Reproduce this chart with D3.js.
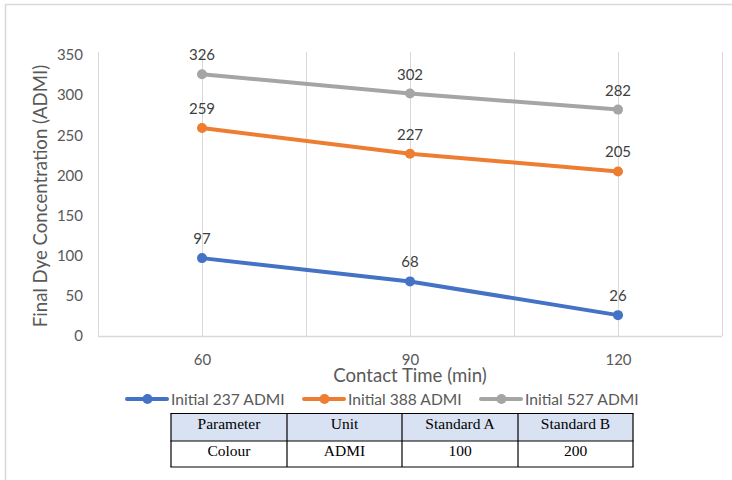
<!DOCTYPE html>
<html>
<head>
<meta charset="utf-8">
<script src="https://cdn.jsdelivr.net/npm/d3@7"></script>
<style>
  html, body { margin: 0; padding: 0; background: #fff; }
  svg { display: block; }
</style>
</head>
<body>
<svg id="chart" width="732" height="480"></svg>
<script>
// Contact times (min) and final dye concentration per initial concentration
const contactTimes = [60, 90, 120];
const seriesNames = ["Initial 237 ADMI", "Initial 388 ADMI", "Initial 527 ADMI"];
const initial237 = [97, 68, 26];
const initial388 = [259, 227, 205];
const initial527 = [326, 302, 282];
const seriesColors = ["#4472C4", "#ED7D31", "#A5A5A5"];
const yTicks = [0, 50, 100, 150, 200, 250, 300, 350];
const xGridTicks = [45, 60, 75, 90, 105, 120, 135];

// Discharge standards table
const tableHeader = ["Parameter", "Unit", "Standard A", "Standard B"];
const tableRow = ["Colour", "ADMI", "100", "200"];

const series = [initial237, initial388, initial527].map((vals, i) => ({
  name: seriesNames[i],
  color: seriesColors[i],
  points: vals.map((v, j) => ({ t: contactTimes[j], v }))
}));

const svg = d3.select("#chart");
const font = "Lato, 'Liberation Sans', Arial, sans-serif";
const serif = "'Liberation Serif', 'Times New Roman', serif";
const textColor = "#595959";

// Chart frame
svg.append("rect").attr("x", 5.5).attr("y", 4.5).attr("width", 740).attr("height", 490)
  .attr("fill", "none").attr("stroke", "#D9D9D9").attr("stroke-width", 1.5);

const x = d3.scaleLinear().domain([45, 135]).range([98, 722]);
const y = d3.scaleLinear().domain([0, 350]).range([336, 55]);

// Vertical gridlines
svg.append("g").selectAll("line").data(xGridTicks).join("line")
  .attr("x1", d => Math.round(x(d)) + 0.5).attr("x2", d => Math.round(x(d)) + 0.5)
  .attr("y1", y(350) - 3).attr("y2", y(0))
  .attr("stroke", "#D9D9D9").attr("stroke-width", 1);

// Horizontal axis line
svg.append("line").attr("x1", x(45)).attr("x2", x(135))
  .attr("y1", y(0) + 0.5).attr("y2", y(0) + 0.5)
  .attr("stroke", "#D9D9D9").attr("stroke-width", 1.3);

// Y axis labels
const yAxis = d3.axisLeft(y).tickValues(yTicks).tickSize(0).tickPadding(0);
const gy = svg.append("g").attr("transform", "translate(83,0)").call(yAxis);
gy.select(".domain").remove();
gy.selectAll("text").attr("fill", textColor).style("font-family", font).style("font-size", "15px");

// X axis labels
const xAxis = d3.axisBottom(x).tickValues(contactTimes).tickSize(0).tickPadding(0);
const gx = svg.append("g").attr("transform", "translate(0,354)").call(xAxis);
gx.select(".domain").remove();
gx.selectAll("text").attr("fill", textColor).style("font-family", font).style("font-size", "15px");

// Axis titles
svg.append("text").attr("x", x(90)).attr("y", 382).attr("text-anchor", "middle")
  .attr("fill", textColor).style("font-family", font).style("font-size", "18.6px")
  .text("Contact Time (min)");
svg.append("text").attr("transform", "translate(46.5,196) rotate(-90)").attr("text-anchor", "middle")
  .attr("fill", textColor).style("font-family", font).style("font-size", "18.6px")
  .text("Final Dye Concentration (ADMI)");

// Lines, markers and data labels
const line = d3.line().x(d => x(d.t)).y(d => y(d.v));
const sg = svg.append("g").selectAll("g").data(series).join("g");
sg.append("path").attr("d", d => line(d.points)).attr("fill", "none")
  .attr("stroke", d => d.color).attr("stroke-width", 4).attr("stroke-linecap", "round");
sg.selectAll("circle").data(d => d.points.map(p => ({ ...p, color: d.color }))).join("circle")
  .attr("cx", d => x(d.t)).attr("cy", d => y(d.v)).attr("r", 5)
  .attr("fill", d => d.color);
sg.selectAll("text.lbl").data(d => d.points).join("text").attr("class", "lbl")
  .attr("x", d => x(d.t)).attr("y", d => y(d.v) - 14).attr("text-anchor", "middle")
  .attr("fill", "#404040").style("font-family", font).style("font-size", "15px")
  .text(d => d.v);

// Legend
const legendX = [127, 304, 481];
const lg = svg.append("g").selectAll("g").data(series).join("g")
  .attr("transform", (d, i) => `translate(${legendX[i]},399)`);
lg.append("line").attr("x1", 0).attr("x2", 40).attr("y1", 0).attr("y2", 0)
  .attr("stroke", d => d.color).attr("stroke-width", 4).attr("stroke-linecap", "round");
lg.append("circle").attr("cx", 20.5).attr("cy", 0).attr("r", 5).attr("fill", d => d.color);
lg.append("text").attr("x", 44).attr("y", 5.5).attr("fill", textColor)
  .style("font-family", font).style("font-size", "15.6px").text(d => d.name);

// Standards table
const colEdges = [171, 287, 402, 518, 633];
const rowEdges = [413.5, 441, 467];
const rowBaselines = [429, 456];
const tg = svg.append("g");
tg.append("rect").attr("x", colEdges[0]).attr("y", rowEdges[0])
  .attr("width", colEdges[4] - colEdges[0]).attr("height", rowEdges[1] - rowEdges[0])
  .attr("fill", "#D9E2F3");
[tableHeader, tableRow].forEach((row, r) => {
  tg.selectAll(null).data(row).join("text")
    .attr("x", (d, i) => (colEdges[i] + colEdges[i + 1]) / 2)
    .attr("y", rowBaselines[r])
    .attr("text-anchor", "middle").attr("fill", "#000")
    .style("font-family", serif).style("font-size", "15.5px")
    .text(d => d);
});
tg.selectAll("line.h").data(rowEdges).join("line").attr("class", "h")
  .attr("x1", colEdges[0] - 0.6).attr("x2", colEdges[4] + 0.6)
  .attr("y1", d => d).attr("y2", d => d)
  .attr("stroke", "#000").attr("stroke-width", 1.2);
tg.selectAll("line.v").data(colEdges).join("line").attr("class", "v")
  .attr("x1", d => d).attr("x2", d => d)
  .attr("y1", rowEdges[0]).attr("y2", rowEdges[2])
  .attr("stroke", "#000").attr("stroke-width", 1.2);
</script>
</body>
</html>
